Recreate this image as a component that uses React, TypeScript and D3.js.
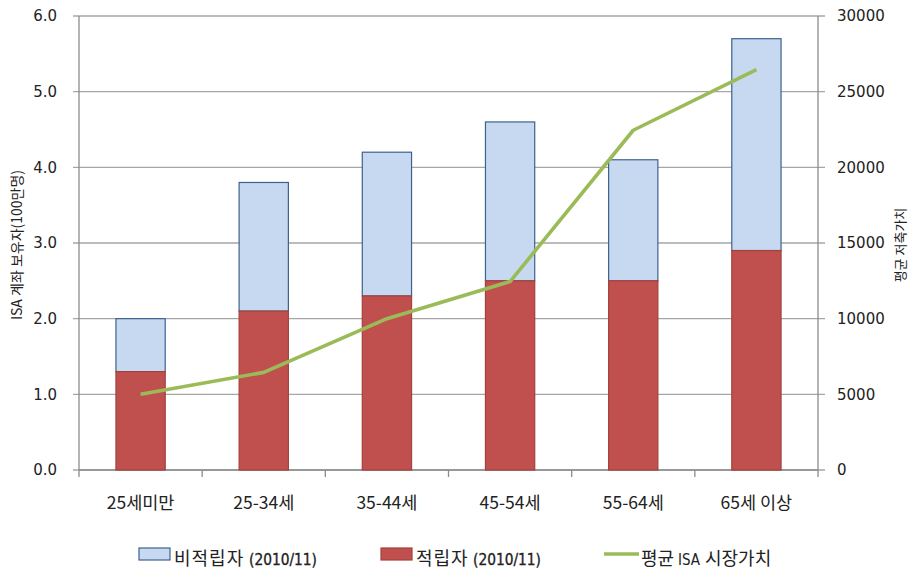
import React from "react";
import * as d3 from "d3";

// Age groups and values
const categories = ["25세미만", "25-34세", "35-44세", "45-54세", "55-64세", "65세 이상"];
// Contributing holders (millions)
const contributors = [1.3, 2.1, 2.3, 2.5, 2.5, 2.9];
// Total holders (millions); non-contributors stack on top of contributors
const totals = [2.0, 3.8, 4.2, 4.6, 4.1, 5.7];
// Average ISA market value
const avgValue = [5000, 6450, 10000, 12450, 22450, 26450];

const leftTicks = [0, 1, 2, 3, 4, 5, 6];
const rightTicks = [0, 5000, 10000, 15000, 20000, 25000, 30000];

const W = 913;
const H = 571;
const plot = { left: 79, right: 818, top: 16, bottom: 470 };

const tickFont = "'DejaVu Sans', Verdana, sans-serif";
const krFont = "'Noto Sans CJK KR', 'Noto Sans', sans-serif";

export default function App() {
  const x = d3
    .scaleBand<string>()
    .domain(categories)
    .range([plot.left, plot.right])
    .paddingInner(0)
    .paddingOuter(0);
  const yL = d3.scaleLinear().domain([0, 6]).range([plot.bottom, plot.top]);
  const yR = d3.scaleLinear().domain([0, 30000]).range([plot.bottom, plot.top]);

  const bw = x.bandwidth() * 0.4;
  const cx = (c: string) => (x(c) as number) + x.bandwidth() / 2;

  const line = d3
    .line<number>()
    .x((_, i) => cx(categories[i]))
    .y((d) => yR(d));

  const gridColor = "#A6A6A6";
  const axisColor = "#8C8C8C";

  return (
    <svg
      width={W}
      height={H}
      style={{ position: "absolute", left: 0, top: 0, background: "#fff" }}
    >
      {/* gridlines */}
      {leftTicks.map((t) => (
        <line
          key={"g" + t}
          x1={plot.left - 6}
          x2={plot.right + 7}
          y1={yL(t)}
          y2={yL(t)}
          stroke={gridColor}
          strokeWidth={1.3}
        />
      ))}

      {/* axes */}
      <line x1={plot.left} x2={plot.left} y1={plot.top} y2={plot.bottom + 7} stroke={axisColor} strokeWidth={1.3} />
      <line x1={plot.right} x2={plot.right} y1={plot.top} y2={plot.bottom + 7} stroke={axisColor} strokeWidth={1.3} />
      <line x1={plot.left} x2={plot.right} y1={plot.bottom} y2={plot.bottom} stroke={axisColor} strokeWidth={1.3} />
      {categories.slice(1).map((c) => (
        <line
          key={"xt" + c}
          x1={x(c) as number}
          x2={x(c) as number}
          y1={plot.bottom}
          y2={plot.bottom + 7}
          stroke={axisColor}
          strokeWidth={1.3}
        />
      ))}

      {/* bars */}
      {categories.map((c, i) => (
        <g key={"b" + c}>
          <rect
            x={cx(c) - bw / 2}
            y={yL(totals[i])}
            width={bw}
            height={yL(contributors[i]) - yL(totals[i])}
            fill="#C6D9F1"
            stroke="#3E6190"
            strokeWidth={1.2}
          />
          <rect
            x={cx(c) - bw / 2}
            y={yL(contributors[i])}
            width={bw}
            height={yL(0) - yL(contributors[i])}
            fill="#C0504D"
            stroke="#A5403D"
            strokeWidth={1.2}
          />
        </g>
      ))}

      {/* average value line */}
      <path
        d={line(avgValue) || ""}
        fill="none"
        stroke="#9BBB59"
        strokeWidth={3.6}
        strokeLinejoin="round"
      />

      {/* left tick labels */}
      {leftTicks.map((t) => (
        <text
          key={"lt" + t}
          x={57}
          y={yL(t)}
          dy="0.36em"
          textAnchor="end"
          fontFamily={tickFont}
          fontSize={15}
          fill="#222"
        >
          {d3.format(".1f")(t)}
        </text>
      ))}

      {/* right tick labels */}
      {rightTicks.map((t) => (
        <text
          key={"rt" + t}
          x={837}
          y={yR(t)}
          dy="0.36em"
          textAnchor="start"
          fontFamily={tickFont}
          fontSize={15}
          fill="#222"
        >
          {t}
        </text>
      ))}

      {/* category labels */}
      {categories.map((c) => (
        <text
          key={"cl" + c}
          x={cx(c)}
          y={509}
          textAnchor="middle"
          fontFamily={krFont}
          fontSize={17.5}
          fill="#222"
        >
          {c}
        </text>
      ))}

      {/* axis titles */}
      <text
        transform={`translate(22,245) rotate(-90)`}
        textAnchor="middle"
        fontFamily={krFont}
        fontSize={14}
        fill="#222"
      >
        ISA 계좌 보유자(100만명)
      </text>
      <text
        transform={`translate(905,245) rotate(-90)`}
        textAnchor="middle"
        fontFamily={krFont}
        fontSize={13}
        fill="#222"
      >
        평균 저축가치
      </text>

      {/* legend */}
      <rect x={139} y={548} width={31} height={12} fill="#C6D9F1" stroke="#3E6190" strokeWidth={1.2} />
      <text x={174} y={565} fontFamily={krFont} fontSize={18} fill="#222" letterSpacing={1}>
        비적립자
      </text>
      <text x={249} y={565} fontFamily={tickFont} fontSize={15} fill="#222" stroke="#222" strokeWidth={0.35} textLength={68} lengthAdjust="spacingAndGlyphs">
        (2010/11)
      </text>

      <rect x={381} y={548} width={31} height={12} fill="#C0504D" stroke="#A5403D" strokeWidth={1.2} />
      <text x={416} y={565} fontFamily={krFont} fontSize={18} fill="#222" letterSpacing={1}>
        적립자
      </text>
      <text x={473} y={565} fontFamily={tickFont} fontSize={15} fill="#222" stroke="#222" strokeWidth={0.35} textLength={68} lengthAdjust="spacingAndGlyphs">
        (2010/11)
      </text>

      <line x1={604} x2={639} y1={554} y2={554} stroke="#9BBB59" strokeWidth={3.6} />
      <text x={641} y={565} fontFamily={krFont} fontSize={18} fill="#222">
        평균
      </text>
      <text x={678} y={565} fontFamily={tickFont} fontSize={15} fill="#222" textLength={22} lengthAdjust="spacingAndGlyphs">
        ISA
      </text>
      <text x={705} y={565} fontFamily={krFont} fontSize={18} fill="#222">
        시장가치
      </text>
    </svg>
  );
}
